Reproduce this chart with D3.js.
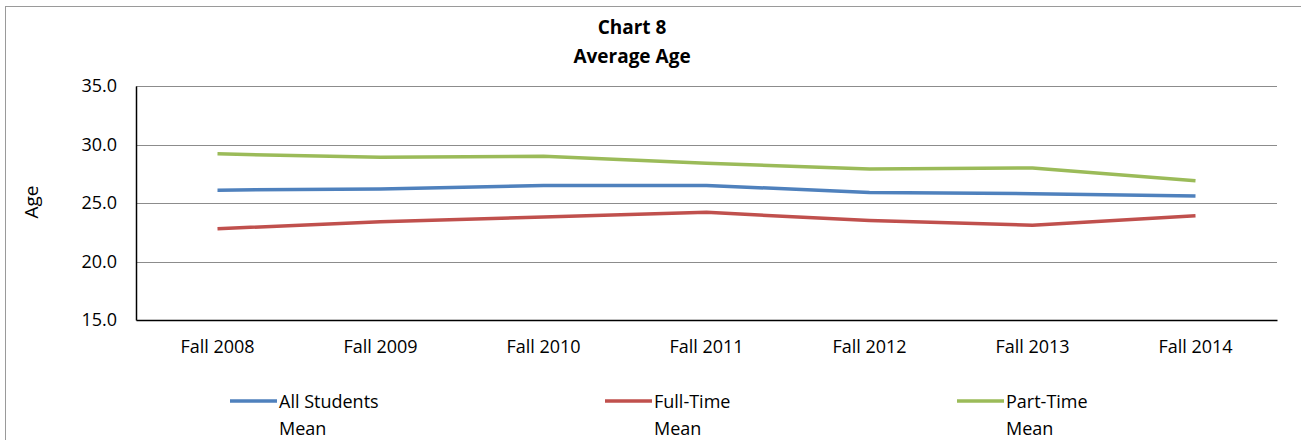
<!DOCTYPE html>
<html>
<head>
<meta charset="utf-8">
<script src="https://cdn.jsdelivr.net/npm/d3@7"></script>
<style>
  body { margin: 0; background: #fff; }
  text { font-family: "Open Sans", sans-serif; fill: #000; }
</style>
</head>
<body>
<div id="chart"></div>
<script>
var categories = ["Fall 2008", "Fall 2009", "Fall 2010", "Fall 2011", "Fall 2012", "Fall 2013", "Fall 2014"];
var allStudents = [26.1, 26.2, 26.5, 26.5, 25.9, 25.8, 25.6];
var fullTime = [22.8, 23.4, 23.8, 24.2, 23.5, 23.1, 23.9];
var partTime = [29.2, 28.9, 29.0, 28.4, 27.9, 28.0, 26.9];
var yTicks = [15, 20, 25, 30, 35];

var series = [
  { name: ["All Students", "Mean"], values: allStudents, color: "#4F81BD", lx: 230 },
  { name: ["Full-Time", "Mean"], values: fullTime, color: "#C0504D", lx: 605 },
  { name: ["Part-Time", "Mean"], values: partTime, color: "#9BBB59", lx: 957 }
];

var width = 1301, height = 440;
var margin = { left: 136, right: 24, top: 86, bottom: 120 };

var svg = d3.select("#chart").append("svg")
  .attr("width", width)
  .attr("height", height);

// outer chart border
svg.append("rect")
  .attr("x", 5.5).attr("y", 6.5)
  .attr("width", 1300).attr("height", 440)
  .attr("fill", "none")
  .attr("stroke", "#9a9a9a");

var x = d3.scaleBand()
  .domain(categories)
  .range([margin.left, width - margin.right]);

var y = d3.scaleLinear()
  .domain([15, 35])
  .range([height - margin.bottom, margin.top]);

// gridlines
svg.append("g")
  .selectAll("line")
  .data(yTicks.slice(1))
  .enter().append("line")
  .attr("x1", margin.left).attr("x2", width - margin.right)
  .attr("y1", function (d) { return Math.round(y(d)) + 0.5; })
  .attr("y2", function (d) { return Math.round(y(d)) + 0.5; })
  .attr("stroke", "#8c8c8c")
  .attr("stroke-width", 1);

// y axis
var yAxis = svg.append("g")
  .attr("transform", "translate(" + margin.left + ",0)")
  .call(d3.axisLeft(y).tickValues(yTicks).tickSize(0).tickPadding(19).tickFormat(d3.format(".1f")));
yAxis.select(".domain").attr("stroke", "#000").attr("stroke-width", 1.5);
yAxis.selectAll("text").style("font-size", "18px").style("font-family", "'Open Sans', sans-serif");

// x axis
var xAxis = svg.append("g")
  .attr("transform", "translate(0," + (height - margin.bottom) + ")")
  .call(d3.axisBottom(x).tickSize(0).tickPadding(20));
xAxis.select(".domain").attr("stroke", "#000").attr("stroke-width", 1.5);
xAxis.selectAll("text").style("font-size", "18px").style("font-family", "'Open Sans', sans-serif");

// lines
var line = d3.line()
  .x(function (d, i) { return x(categories[i]) + x.bandwidth() / 2; })
  .y(function (d) { return y(d); });

svg.append("g")
  .selectAll("path")
  .data(series)
  .enter().append("path")
  .attr("d", function (d) { return line(d.values); })
  .attr("fill", "none")
  .attr("stroke", function (d) { return d.color; })
  .attr("stroke-width", 3.5)
  .attr("stroke-linejoin", "round");

// titles
svg.append("text")
  .attr("x", 632).attr("y", 34)
  .attr("text-anchor", "middle")
  .style("font-size", "19px").style("font-weight", "bold")
  .text("Chart 8");
svg.append("text")
  .attr("x", 632).attr("y", 63)
  .attr("text-anchor", "middle")
  .style("font-size", "19px").style("font-weight", "bold")
  .text("Average Age");

// y axis label
svg.append("text")
  .attr("transform", "translate(38,202) rotate(-90)")
  .attr("text-anchor", "middle")
  .style("font-size", "19px")
  .text("Age");

// legend
var legend = svg.append("g")
  .selectAll("g")
  .data(series)
  .enter().append("g")
  .attr("transform", function (d) { return "translate(" + d.lx + ",0)"; });

legend.append("line")
  .attr("x1", 0).attr("x2", 47)
  .attr("y1", 401).attr("y2", 401)
  .attr("stroke", function (d) { return d.color; })
  .attr("stroke-width", 3.5);

legend.append("text")
  .attr("x", 49).attr("y", 408)
  .style("font-size", "18px")
  .text(function (d) { return d.name[0]; });

legend.append("text")
  .attr("x", 49).attr("y", 435)
  .style("font-size", "18px")
  .text(function (d) { return d.name[1]; });
</script>
</body>
</html>
